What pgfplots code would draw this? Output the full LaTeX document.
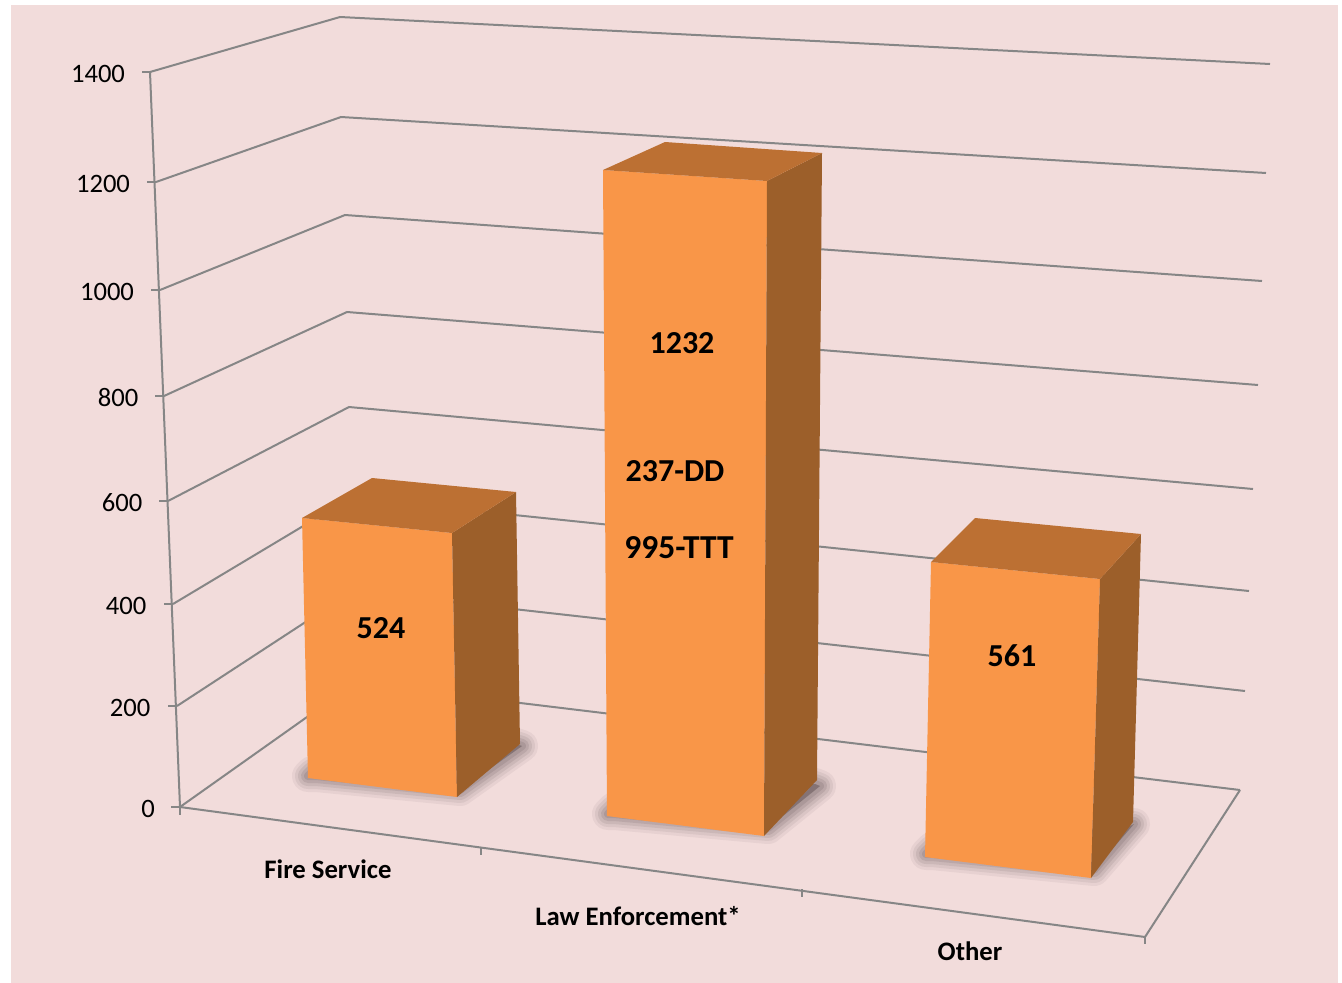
\documentclass[border=0pt]{standalone}
\usepackage{pgfplots}
\pgfplotsset{compat=1.18}
\usepackage{fontspec}
\setmainfont{Carlito}
\definecolor{bgpink}{HTML}{F2DCDB}
\definecolor{gridc}{HTML}{868686}
\definecolor{front}{HTML}{F99648}
\definecolor{side}{HTML}{9C5F2A}
\definecolor{topc}{HTML}{BC7033}
\definecolor{shad}{HTML}{5A4C4E}
\newcommand{\poly}[2]{\addplot[draw=none,fill=#1,forget plot] coordinates {#2} -- cycle;}
\newcommand{\grid}[1]{\addplot[gridc,line width=2pt,forget plot] coordinates {#1};}
\newcommand{\shadow}[1]{%
  \addplot[draw=shad,fill=shad,opacity=0.07,line width=32pt,line join=round,forget plot] coordinates {#1} -- cycle;
  \addplot[draw=shad,fill=shad,opacity=0.09,line width=26pt,line join=round,forget plot] coordinates {#1} -- cycle;
  \addplot[draw=shad,fill=shad,opacity=0.11,line width=20pt,line join=round,forget plot] coordinates {#1} -- cycle;
  \addplot[draw=shad,fill=shad,opacity=0.14,line width=14pt,line join=round,forget plot] coordinates {#1} -- cycle;
  \addplot[draw=shad,fill=shad,opacity=0.16,line width=8pt,line join=round,forget plot] coordinates {#1} -- cycle;
}
\newcommand{\tk}{\fontsize{26.6}{30}\selectfont}
\newcommand{\cat}{\fontsize{26.7}{30}\selectfont\bfseries}
\newcommand{\dat}{\fontsize{32}{36}\selectfont\bfseries}
\begin{document}
\begin{tikzpicture}
\begin{axis}[
  scale only axis, width=1342pt, height=983pt,
  xmin=0, xmax=1342, ymin=0, ymax=983, y dir=reverse,
  hide axis, clip=false,
]
% page and chart area
\poly{white}{(0,0)(1342,0)(1342,983)(0,983)}
\poly{bgpink}{(11,5)(1338,5)(1338,983)(11,983)}
% back wall and side wall gridlines
\grid{(150,72)(340,17)(1270,64)}
\grid{(156,182)(341,117)(1266,173)}
\grid{(160,290)(345,215)(1262,281)}
\grid{(164,396)(347,312)(1258,385)}
\grid{(168,501)(349,407)(1253,489)}
\grid{(173,604)(350,498)(1249,591)}
\grid{(177,706)(353,591)(1245,691)}
\grid{(180,807)(355,683)(1240,790)}
% floor and value axis
\grid{(150,72)(180,807)(1145,937)(1240,790)}
% ticks
\grid{(142,72)(150,72)}
\grid{(147,182)(156,182)}
\grid{(151,290)(160,290)}
\grid{(155,396)(164,396)}
\grid{(159,501)(168,501)}
\grid{(164,604)(173,604)}
\grid{(168,706)(177,706)}
\grid{(171,807)(180,807)}
\grid{(180,807)(180,815)}
\grid{(481,847)(481,855)}
\grid{(802,889)(802,897)}
\grid{(1145,937)(1145,944)}
% shadows
\shadow{(308,776)(312,772)(516,744)(522,746)(460,790)(316,776)}
\shadow{(608,814)(614,808)(815,784)(820,786)(768,828)(614,814)}
\shadow{(926,854)(932,848)(1130,826)(1134,824)(1094,870)(932,854)}
% Fire Service, 524
\poly{front}{(302,518)(452,533)(457,797)(308,778)}
\poly{side}{(452,533)(516,492)(520,744)(457,797)}
\poly{topc}{(302,518)(372,478)(516,492)(452,533)}
% Law Enforcement, 1232
\poly{front}{(603,170)(767,181)(764,836)(607,816)}
\poly{side}{(767,181)(822,153)(817,780)(764,836)}
\poly{topc}{(603,170)(665,142)(822,153)(767,181)}
% Other, 561
\poly{front}{(931,562)(1100,579)(1091,878)(925,857)}
\poly{side}{(1100,579)(1141,534)(1133,822)(1091,878)}
\poly{topc}{(931,562)(975,518)(1141,534)(1100,579)}
% value labels
\node[font=\tk] at (axis cs:98,74) {1400};
\node[font=\tk] at (axis cs:103,184) {1200};
\node[font=\tk] at (axis cs:107,292) {1000};
\node[font=\tk] at (axis cs:118,398) {800};
\node[font=\tk] at (axis cs:122,503) {600};
\node[font=\tk] at (axis cs:126,606) {400};
\node[font=\tk] at (axis cs:130,708) {200};
\node[font=\tk] at (axis cs:148,809) {0};
% category labels
\node[font=\cat] at (axis cs:328,869) {Fire Service};
\node[font=\cat] at (axis cs:638,916) {Law Enforcement*};
\node[font=\cat] at (axis cs:970,951) {Other};
% data labels
\node[font=\dat] at (axis cs:381,628) {524};
\node[font=\dat] at (axis cs:682,343) {1232};
\node[font=\dat] at (axis cs:675,471) {237-DD};
\node[font=\fontsize{33.5}{36}\selectfont\bfseries] at (axis cs:679,548) {995-TTT};
\node[font=\dat] at (axis cs:1012,656) {561};
\end{axis}
\end{tikzpicture}
\end{document}
